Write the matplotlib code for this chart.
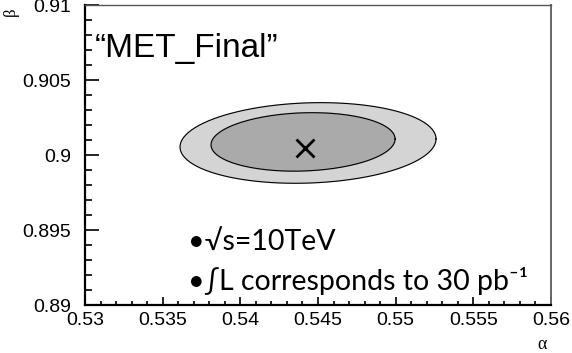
import numpy as np
import matplotlib.pyplot as plt

# contour parameters (centre, half-widths, shear)
best_fit = (0.54416, 0.9005)
outer = dict(cx=0.54436, cy=0.90083, a=0.00824, b=0.002675, k=0.0325)
inner = dict(cx=0.54404, cy=0.9009, a=0.005925, b=0.00194, k=0.0325)

x_ticks = [0.53, 0.535, 0.54, 0.545, 0.55, 0.555, 0.56]
x_labels = ["0.53", "0.535", "0.54", "0.545", "0.55", "0.555", "0.56"]
y_ticks = [0.89, 0.895, 0.9, 0.905, 0.91]
y_labels = ["0.89", "0.895", "0.9", "0.905", "0.91"]


def contour(p):
    t = np.linspace(0, 2 * np.pi, 200)
    x = p["cx"] + p["a"] * np.cos(t)
    y = p["cy"] + p["b"] * np.sin(t) + p["k"] * (x - p["cx"])
    return x, y


fig = plt.figure(figsize=(5.72, 3.53), dpi=100)
ax = fig.add_axes([0.1486, 0.135, 0.8146, 0.8495])

xo, yo = contour(outer)
ax.fill(xo, yo, color="#d4d4d4", zorder=1)
ax.plot(xo, yo, color="black", lw=0.8, zorder=2)
xi, yi = contour(inner)
ax.fill(xi, yi, color="#aaaaaa", zorder=3)
ax.plot(xi, yi, color="black", lw=0.8, zorder=4)
ax.plot(best_fit[0], best_fit[1], marker="x", color="black", ms=13, mew=2, zorder=5)

ax.set_xlim(0.53, 0.56)
ax.set_ylim(0.89, 0.91)
ax.set_xticks(x_ticks)
ax.set_xticklabels(x_labels)
ax.set_yticks(y_ticks)
ax.set_yticklabels(y_labels)
ax.set_xticks(np.arange(0.53, 0.5601, 0.001), minor=True)
ax.set_yticks(np.arange(0.89, 0.9101, 0.001), minor=True)
for lab in ax.get_xticklabels() + ax.get_yticklabels():
    lab.set_family("Liberation Sans")
    lab.set_fontsize(14)
ax.tick_params(axis="y", which="major", direction="in", length=10, width=1.2, pad=10)
ax.tick_params(axis="y", which="minor", direction="in", length=5, width=1.2)
ax.tick_params(axis="x", which="major", direction="in", length=6, width=1.2, pad=5)
ax.tick_params(axis="x", which="minor", direction="in", length=3, width=1.2)

ax.spines["left"].set_linewidth(1.6)
ax.spines["bottom"].set_linewidth(1.6)
ax.spines["top"].set_linewidth(1.0)
ax.spines["top"].set_color("#555555")
ax.spines["right"].set_linewidth(1.4)
ax.spines["right"].set_color("#666666")

fig.text(0.019, 0.966, "β", family="Liberation Serif", fontsize=12, rotation=90,
         ha="center", va="center")
fig.text(0.947, 0.025, "α", family="Liberation Serif", fontsize=13,
         ha="center", va="center")

ax.text(0.5306, 0.9071, "\u201cMET_Final\u201d", family="Liberation Sans", fontsize=24,
        va="center", ha="left")
ax.text(0.5366, 0.8937, "•√s=10TeV", family=["Lato", "DejaVu Sans"], fontsize=20.5,
        va="baseline", ha="left")
ax.text(0.5366, 0.8910, "•∫L corresponds to 30 pb⁻¹", family=["Lato", "DejaVu Sans"],
        fontsize=20.5, va="baseline", ha="left")

fig.savefig("out.png", dpi=100)
